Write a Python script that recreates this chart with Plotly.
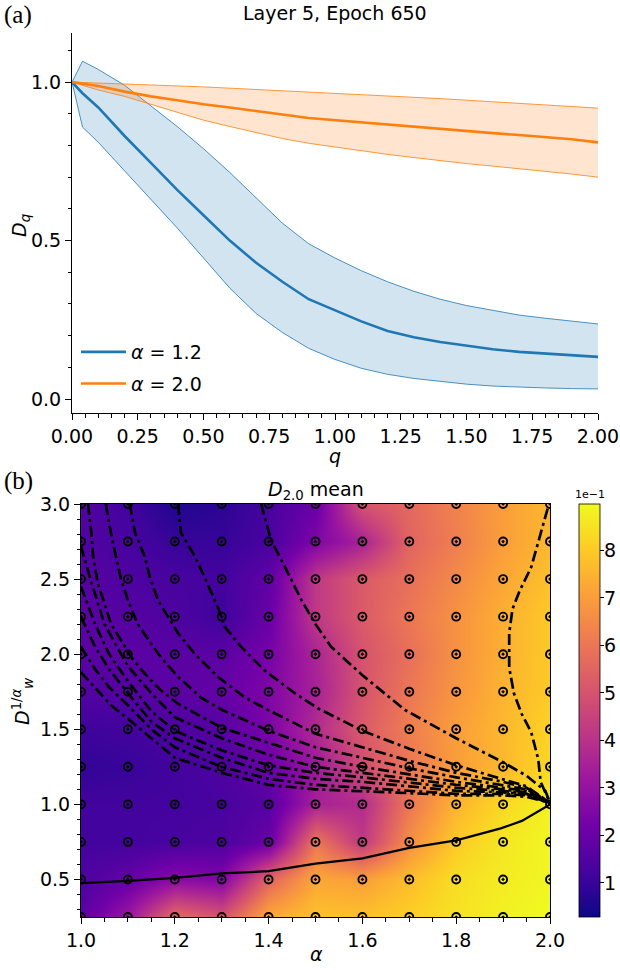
import plotly.graph_objects as go

# ---------------- panel (a): D_q against q ----------------
q = [0.0, 0.04, 0.1, 0.2, 0.3, 0.4, 0.5, 0.6, 0.7, 0.8, 0.9, 1.0,
     1.1, 1.2, 1.3, 1.4, 1.5, 1.6, 1.7, 1.8, 1.9, 2.0]
blue_mean = [1.0, 0.965, 0.92, 0.83, 0.745, 0.66, 0.58, 0.5, 0.43, 0.37, 0.315, 0.28,
             0.245, 0.215, 0.195, 0.18, 0.168, 0.157, 0.149, 0.143, 0.138, 0.133]
blue_upper = [1.0, 1.066, 1.04, 0.99, 0.925, 0.86, 0.79, 0.715, 0.635, 0.555, 0.49, 0.445,
              0.405, 0.37, 0.34, 0.315, 0.295, 0.28, 0.265, 0.255, 0.245, 0.237]
blue_lower = [1.0, 0.858, 0.81, 0.72, 0.63, 0.54, 0.445, 0.35, 0.27, 0.21, 0.16, 0.125,
              0.097, 0.078, 0.065, 0.055, 0.047, 0.041, 0.037, 0.035, 0.033, 0.032]
orange_mean = [1.0, 0.995, 0.988, 0.97, 0.955, 0.943, 0.93, 0.92, 0.91, 0.898, 0.887, 0.88,
               0.872, 0.865, 0.858, 0.851, 0.845, 0.839, 0.833, 0.826, 0.82, 0.81]
orange_upper = [1.0, 0.999, 0.997, 0.994, 0.991, 0.988, 0.985, 0.981, 0.977, 0.973, 0.969, 0.966,
                0.961, 0.957, 0.952, 0.948, 0.943, 0.938, 0.933, 0.928, 0.923, 0.918]
orange_lower = [1.0, 0.99, 0.975, 0.955, 0.93, 0.905, 0.88, 0.86, 0.84, 0.822, 0.807, 0.795,
                0.783, 0.772, 0.762, 0.752, 0.743, 0.735, 0.727, 0.72, 0.71, 0.70]

# ---------------- panel (b): D_2.0 mean heatmap ----------------
alpha_grid = [1.0, 1.1, 1.2, 1.3, 1.4, 1.5, 1.6, 1.7, 1.8, 1.9, 2.0]
dw_grid = [0.25, 0.5, 0.75, 1.0, 1.25, 1.5, 1.75, 2.0, 2.25, 2.5, 2.75, 3.0]
d2_mean = [
    [0.17, 0.32, 0.57, 0.50, 0.73, 0.78, 0.78, 0.81, 0.85, 0.88, 0.90],  # 0.25
    [0.14, 0.19, 0.27, 0.25, 0.55, 0.72, 0.70, 0.77, 0.84, 0.87, 0.89],  # 0.5
    [0.12, 0.12, 0.13, 0.14, 0.20, 0.60, 0.42, 0.66, 0.80, 0.86, 0.89],  # 0.75
    [0.12, 0.12, 0.12, 0.13, 0.16, 0.35, 0.38, 0.60, 0.75, 0.83, 0.88],  # 1.0
    [0.09, 0.10, 0.12, 0.14, 0.20, 0.32, 0.48, 0.60, 0.70, 0.76, 0.83],  # 1.25
    [0.11, 0.12, 0.14, 0.16, 0.24, 0.38, 0.52, 0.62, 0.70, 0.76, 0.82],  # 1.5
    [0.15, 0.16, 0.17, 0.19, 0.25, 0.35, 0.50, 0.60, 0.68, 0.75, 0.80],  # 1.75
    [0.17, 0.17, 0.17, 0.17, 0.23, 0.36, 0.50, 0.58, 0.67, 0.74, 0.80],  # 2.0
    [0.17, 0.16, 0.14, 0.11, 0.20, 0.42, 0.52, 0.60, 0.67, 0.74, 0.80],  # 2.25
    [0.16, 0.14, 0.13, 0.12, 0.18, 0.42, 0.52, 0.58, 0.65, 0.72, 0.78],  # 2.5
    [0.15, 0.13, 0.10, 0.10, 0.13, 0.25, 0.35, 0.55, 0.62, 0.70, 0.76],  # 2.75
    [0.15, 0.12, 0.06, 0.08, 0.13, 0.20, 0.50, 0.56, 0.63, 0.70, 0.76],  # 3.0
]
cbar_min, cbar_max = 0.028, 0.897
cbar_ticks = [0.1, 0.2, 0.3, 0.4, 0.5, 0.6, 0.7, 0.8]
cbar_labels = ["1", "2", "3", "4", "5", "6", "7", "8"]

# dash-dot level curves (alpha, D_w^{1/alpha})
c_right_a = [1.995, 1.975, 1.96, 1.935, 1.92, 1.913, 1.913, 1.923, 1.94, 1.96, 1.975, 1.98, 2.0]
c_right_d = [2.97, 2.75, 2.58, 2.42, 2.30, 2.14, 1.91, 1.74, 1.60, 1.48, 1.30, 1.15, 1.01]
c1_a = [1.384, 1.405, 1.435, 1.47, 1.5, 1.533, 1.6, 1.69, 1.8, 1.9, 1.95, 1.99, 2.0]
c1_d = [3.0, 2.76, 2.58, 2.36, 2.2, 2.05, 1.86, 1.63, 1.44, 1.28, 1.19, 1.09, 1.01]
c2_a = [1.207, 1.213, 1.243, 1.264, 1.292, 1.307, 1.341, 1.392, 1.456, 1.505, 1.6, 1.7, 1.8, 1.9, 1.95, 2.0]
c2_d = [3.0, 2.81, 2.65, 2.51, 2.31, 2.18, 2.05, 1.89, 1.74, 1.64, 1.49, 1.37, 1.26, 1.17, 1.12, 1.01]
c3_a = [1.104, 1.115, 1.136, 1.147, 1.164, 1.207, 1.243, 1.292, 1.35, 1.392, 1.5, 1.6, 1.7, 1.8, 1.9, 1.95, 2.0]
c3_d = [3.0, 2.81, 2.65, 2.51, 2.36, 2.14, 2.0, 1.85, 1.71, 1.64, 1.47, 1.38, 1.29, 1.21, 1.15, 1.11, 1.01]
c4_a = [1.053, 1.061, 1.073, 1.086, 1.1, 1.121, 1.143, 1.17, 1.207, 1.256, 1.3, 1.4, 1.5, 1.6, 1.7, 1.8, 1.9, 1.95, 2.0]
c4_d = [3.0, 2.85, 2.67, 2.49, 2.36, 2.2, 2.1, 1.98, 1.85, 1.71, 1.63, 1.49, 1.38, 1.31, 1.24, 1.18, 1.13, 1.1, 1.01]
c5_a = [1.015, 1.022, 1.026, 1.036, 1.05, 1.064, 1.086, 1.107, 1.136, 1.17, 1.207, 1.3, 1.4, 1.5, 1.6, 1.7, 1.8, 1.9, 1.95, 2.0]
c5_d = [3.0, 2.81, 2.65, 2.47, 2.34, 2.2, 2.09, 1.98, 1.87, 1.76, 1.67, 1.51, 1.41, 1.31, 1.25, 1.2, 1.15, 1.11, 1.09, 1.01]
c6_a = [1.0, 1.02, 1.05, 1.1, 1.15, 1.2, 1.3, 1.4, 1.5, 1.6, 1.7, 1.8, 1.9, 1.95, 2.0]
c6_d = [2.72, 2.5, 2.2, 1.92, 1.74, 1.58, 1.44, 1.33, 1.25, 1.21, 1.17, 1.13, 1.10, 1.08, 1.01]
c7_a = [1.0, 1.03, 1.06, 1.1, 1.15, 1.2, 1.3, 1.4, 1.5, 1.6, 1.7, 1.8, 1.9, 1.95, 2.0]
c7_d = [2.45, 2.2, 2.0, 1.82, 1.62, 1.49, 1.36, 1.26, 1.21, 1.18, 1.145, 1.11, 1.09, 1.07, 1.01]
c8_a = [1.0, 1.03, 1.06, 1.1, 1.15, 1.2, 1.3, 1.4, 1.5, 1.6, 1.7, 1.8, 1.9, 1.95, 2.0]
c8_d = [2.25, 2.05, 1.9, 1.74, 1.55, 1.44, 1.31, 1.21, 1.17, 1.15, 1.12, 1.09, 1.08, 1.07, 1.01]
c9_a = [1.0, 1.03, 1.06, 1.1, 1.15, 1.2, 1.3, 1.4, 1.5, 1.6, 1.7, 1.8, 1.9, 1.95, 2.0]
c9_d = [2.05, 1.9, 1.78, 1.66, 1.5, 1.38, 1.25, 1.17, 1.13, 1.11, 1.09, 1.07, 1.07, 1.06, 1.01]
c10_a = [1.0, 1.064, 1.1, 1.15, 1.2, 1.3, 1.4, 1.5, 1.6, 1.7, 1.8, 1.9, 1.95, 2.0]
c10_d = [1.88, 1.66, 1.57, 1.44, 1.31, 1.21, 1.13, 1.1, 1.09, 1.075, 1.06, 1.06, 1.05, 1.01]

# solid black curve
solid_a = [1.0, 1.1, 1.2, 1.3, 1.4, 1.5, 1.6, 1.7, 1.8, 1.895, 1.94, 1.99, 2.0]
solid_d = [0.475, 0.49, 0.51, 0.54, 0.555, 0.605, 0.64, 0.71, 0.76, 0.84, 0.89, 0.98, 1.0]

W, H = 620, 970
BLUE = "#1f77b4"
ORANGE = "#ff7f0e"
FONT = "DejaVu Sans"
CB_TOP, CB_BOT = 504, 917


def px(x):
    return x / W


def py(y):
    return 1 - y / H


fig = go.Figure()

# bands
fig.add_trace(go.Scatter(x=q, y=blue_upper, mode="lines", line=dict(color=BLUE, width=0.8),
                         showlegend=False, hoverinfo="skip"))
fig.add_trace(go.Scatter(x=q, y=blue_lower, mode="lines", line=dict(color=BLUE, width=0.8),
                         fill="tonexty", fillcolor="rgba(31,119,180,0.2)", showlegend=False, hoverinfo="skip"))
fig.add_trace(go.Scatter(x=q, y=orange_upper, mode="lines", line=dict(color=ORANGE, width=0.8),
                         showlegend=False, hoverinfo="skip"))
fig.add_trace(go.Scatter(x=q, y=orange_lower, mode="lines", line=dict(color=ORANGE, width=0.8),
                         fill="tonexty", fillcolor="rgba(255,127,14,0.2)", showlegend=False, hoverinfo="skip"))
fig.add_trace(go.Scatter(x=q, y=blue_mean, mode="lines", line=dict(color=BLUE, width=2.6),
                         name="<i>α</i> = 1.2", legendgroup="a"))
fig.add_trace(go.Scatter(x=q, y=orange_mean, mode="lines", line=dict(color=ORANGE, width=2.6),
                         name="<i>α</i> = 2.0", legendgroup="b"))

# heatmap
fig.add_trace(go.Heatmap(
    x=alpha_grid, y=dw_grid, z=d2_mean, zsmooth="best", colorscale="Plasma",
    zmin=cbar_min, zmax=cbar_max, xaxis="x2", yaxis="y2",
    colorbar=dict(x=px(579), xanchor="left", xpad=0, thickness=21,
                  len=(CB_BOT - CB_TOP) / H, lenmode="fraction", y=py((CB_TOP + CB_BOT) / 2),
                  yanchor="middle", ypad=0, outlinewidth=0.8, outlinecolor="black",
                  tickvals=cbar_ticks, showticklabels=False,
                  ticks="outside", ticklen=4, tickcolor="black"),
))

dashdot = "11px,4px,3px,4px"
curves = [(c_right_a, c_right_d), (c1_a, c1_d), (c2_a, c2_d), (c3_a, c3_d), (c4_a, c4_d),
          (c5_a, c5_d), (c6_a, c6_d), (c7_a, c7_d), (c8_a, c8_d), (c9_a, c9_d), (c10_a, c10_d)]
for ca, cd in curves:
    fig.add_trace(go.Scatter(x=ca, y=cd, mode="lines", xaxis="x2", yaxis="y2",
                             line=dict(color="black", width=2.7, dash=dashdot),
                             showlegend=False, hoverinfo="skip"))
fig.add_trace(go.Scatter(x=solid_a, y=solid_d, mode="lines", xaxis="x2", yaxis="y2",
                         line=dict(color="black", width=2.2), showlegend=False, hoverinfo="skip"))

# grid markers
gx = [a for d in dw_grid for a in alpha_grid]
gy = [d for d in dw_grid for a in alpha_grid]
fig.add_trace(go.Scatter(x=gx, y=gy, mode="markers", xaxis="x2", yaxis="y2", cliponaxis=True,
                         marker=dict(symbol="circle-open-dot", size=8, color="black",
                                     line=dict(width=1.9, color="black")),
                         showlegend=False, hoverinfo="skip"))

axis_common = dict(showgrid=False, zeroline=False, showline=True, linecolor="black", linewidth=1,
                   ticks="outside", ticklen=6, tickwidth=1, tickcolor="black", automargin=False,
                   tickfont=dict(size=19, color="black", family=FONT))

fig.update_layout(
    width=W, height=H, margin=dict(l=0, r=0, t=0, b=0, autoexpand=False),
    paper_bgcolor="white", plot_bgcolor="white",
    font=dict(family=FONT, color="black", size=19),
    xaxis=dict(domain=[px(72), px(598)], anchor="y", range=[0, 2.0],
               tickvals=[0, 0.25, 0.5, 0.75, 1.0, 1.25, 1.5, 1.75, 2.0],
               ticktext=["0.00", "0.25", "0.50", "0.75", "1.00", "1.25", "1.50", "1.75", "2.00"],
               minor=dict(ticks="outside", dtick=0.05, ticklen=3.5, tickcolor="black"),
               **axis_common),
    yaxis=dict(domain=[py(413), py(33)], anchor="x", range=[-0.044, 1.155],
               tickvals=[0, 0.5, 1.0], ticktext=["0.0", "0.5", "1.0"],
               minor=dict(ticks="outside", dtick=0.1, ticklen=3.5, tickcolor="black"),
               **axis_common),
    xaxis2=dict(domain=[px(81), px(550)], anchor="y2", range=[1.0, 2.0], mirror=True,
                tickvals=[1.0, 1.2, 1.4, 1.6, 1.8, 2.0],
                ticktext=["1.0", "1.2", "1.4", "1.6", "1.8", "2.0"],
                minor=dict(ticks="outside", dtick=0.05, ticklen=3.5, tickcolor="black"),
                **axis_common),
    yaxis2=dict(domain=[py(917), py(504)], anchor="x2", range=[0.25, 3.0], mirror=True,
                tickvals=[0.5, 1.0, 1.5, 2.0, 2.5, 3.0],
                ticktext=["0.5", "1.0", "1.5", "2.0", "2.5", "3.0"],
                minor=dict(ticks="outside", dtick=0.1, ticklen=3.5, tickcolor="black"),
                **axis_common),
    legend=dict(x=px(76), y=py(333), xanchor="left", yanchor="top", traceorder="grouped",
                bgcolor="rgba(0,0,0,0)", font=dict(size=19, family=FONT),
                tracegroupgap=4, itemwidth=45),
)

ann = [
    dict(text="(a)", x=2, y=15, xanchor="left", font=dict(family="Liberation Serif", size=25)),
    dict(text="(b)", x=2, y=481, xanchor="left", font=dict(family="Liberation Serif", size=25)),
    dict(text="Layer 5, Epoch 650", x=335, y=13, font=dict(size=19)),
    dict(text="<i>D<sub>q</sub></i>", x=20, y=226, textangle=-90, font=dict(size=19)),
    dict(text="<i>q</i>", x=335, y=456, font=dict(size=19)),
    dict(text="<i>D</i><sub>2.0</sub> mean", x=316, y=490, font=dict(size=19)),
    dict(text="<i>D</i><sup>1/<i>α</i></sup><sub><i>w</i></sub>", x=22, y=702, textangle=-90,
         font=dict(size=19)),
    dict(text="<i>α</i>", x=316, y=954, font=dict(size=19)),
    dict(text="1e−1", x=590, y=495, font=dict(size=11)),
]
# colour-bar tick labels, placed on the colour scale
for v, lab in zip(cbar_ticks, cbar_labels):
    yy = CB_BOT - (v - cbar_min) / (cbar_max - cbar_min) * (CB_BOT - CB_TOP)
    ann.append(dict(text=lab, x=602, y=yy, xanchor="left", font=dict(size=19)))

for a in ann:
    a.update(xref="paper", yref="paper", showarrow=False, yanchor="middle")
    a.setdefault("xanchor", "center")
    a["x"] = px(a["x"])
    a["y"] = py(a["y"])
    fig.add_annotation(**a)

# the page body has an 8px default margin; drop it so the figure sits at the window corner
fig.write_html("out.html", config={"displayModeBar": False},
               post_script="document.body.style.margin='0';")
